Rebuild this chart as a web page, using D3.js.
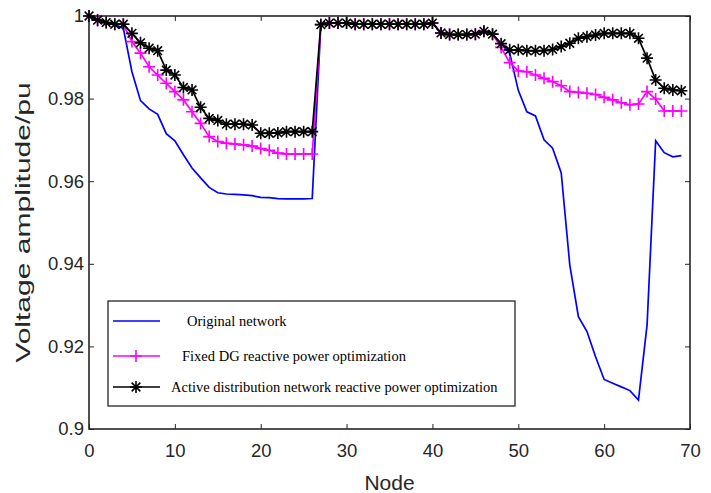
<!DOCTYPE html>
<html>
<head>
<meta charset="utf-8">
<script src="https://cdn.jsdelivr.net/npm/d3@7"></script>
<style>
  body { margin: 0; background: #fff; }
  svg { display: block; }
</style>
</head>
<body>
<div id="container"></div>
<script>
/* DATA */
const nodes = [0,1,2,3,4,5,6,7,8,9,10,11,12,13,14,15,16,17,18,19,20,21,22,23,24,25,26,27,28,29,
  30,31,32,33,34,35,36,37,38,39,40,41,42,43,44,45,46,47,48,49,50,51,52,53,54,55,56,57,58,59,
  60,61,62,63,64,65,66,67,68,69]

const original = [1.0,0.999,0.9985,0.998,0.997,0.9865,0.9795,0.9775,0.9762,0.9715,
  0.9698,0.9664,0.9632,0.9608,0.9585,0.9572,0.9569,0.9568,0.9567,0.9565,
  0.9561,0.956,0.9558,0.9557,0.9557,0.9557,0.9558,0.9979,0.9983,0.9983,
  0.9983,0.998,0.998,0.998,0.998,0.998,0.998,0.998,0.998,0.998,
  0.9983,0.9959,0.9955,0.9955,0.9955,0.9956,0.9963,0.9956,0.9933,0.991,
  0.982,0.9768,0.9758,0.970,0.968,0.962,0.9397,0.9272,0.9236,0.9175,
  0.912,0.9111,0.9102,0.9093,0.907,0.9252,0.9698,0.9669,0.9659,0.9662]

const fixedDG = [1.0,0.999,0.9984,0.998,0.998,0.9938,0.991,0.9877,0.9857,0.9837,
  0.9817,0.9797,0.9768,0.974,0.9708,0.9696,0.9692,0.969,0.9688,0.9685,
  0.9679,0.9675,0.9668,0.9666,0.9666,0.9666,0.9666,0.9979,0.9983,0.9983,
  0.9983,0.998,0.998,0.998,0.998,0.998,0.998,0.998,0.998,0.998,
  0.9983,0.9959,0.9955,0.9955,0.9955,0.9956,0.9963,0.9956,0.9924,0.9887,
  0.9867,0.9865,0.9857,0.9849,0.9841,0.9831,0.9817,0.9815,0.9813,0.981,
  0.9803,0.9797,0.979,0.9785,0.9787,0.9817,0.9799,0.977,0.977,0.977]

const activeDN = [1.0,0.999,0.9984,0.998,0.998,0.9958,0.9935,0.9922,0.9916,0.9869,
  0.9857,0.9827,0.9821,0.9779,0.9752,0.9747,0.9738,0.9738,0.9738,0.9736,
  0.9716,0.9716,0.9717,0.972,0.972,0.972,0.972,0.9979,0.9983,0.9983,
  0.9983,0.998,0.998,0.998,0.998,0.998,0.998,0.998,0.998,0.998,
  0.9983,0.9959,0.9955,0.9955,0.9955,0.9956,0.9963,0.9956,0.9933,0.9918,
  0.9918,0.9916,0.9916,0.9916,0.9919,0.9926,0.9934,0.9946,0.995,0.9954,
  0.9958,0.9958,0.9958,0.9958,0.9946,0.9898,0.9845,0.9825,0.9821,0.9819]

const xTicks = [0,10,20,30,40,50,60,70]
const yTicks = [0.9,0.92,0.94,0.96,0.98,1]
const yTickLabels = ["0.9","0.92","0.94","0.96","0.98","1"]
const legendLabels = ["Original network", "Fixed DG reactive power optimization",
  "Active distribution network reactive power optimization"]

/* LAYOUT */
const W = 711, H = 493
const margin = {top: 16, right: 21, bottom: 64, left: 89}
const width = W - margin.left - margin.right
const height = H - margin.top - margin.bottom
const axisColor = "#262626"
const sans = "'Liberation Sans', Arial, Helvetica, sans-serif"

const svg = d3.select("#container")
  .append("svg")
    .attr("width", W)
    .attr("height", H)
  .append("g")
    .attr("transform", "translate(" + margin.left + "," + margin.top + ")")

// SCALES
const xScale = d3.scaleLinear().domain([0, 70]).range([0, width])
const yScale = d3.scaleLinear().domain([0.9, 1]).range([height, 0])

// AXES (ticks inward, box all round)
function styleAxis(g) {
  g.select(".domain").remove()
  g.selectAll(".tick line").attr("stroke", axisColor).attr("stroke-width", 1)
  g.selectAll(".tick text")
    .attr("fill", axisColor)
    .style("font-family", sans)
    .style("font-size", "18.5px")
}

svg.append("g")
  .attr("transform", "translate(0," + height + ")")
  .call(d3.axisBottom(xScale).tickValues(xTicks).tickSize(-5).tickPadding(15))
  .call(styleAxis)

svg.append("g")
  .call(d3.axisTop(xScale).tickValues(xTicks).tickSize(-5).tickFormat(""))
  .call(styleAxis)

svg.append("g")
  .call(d3.axisLeft(yScale).tickValues(yTicks).tickSize(-5).tickPadding(5)
    .tickFormat((d, i) => yTickLabels[i]))
  .call(styleAxis)

svg.append("g")
  .attr("transform", "translate(" + width + ",0)")
  .call(d3.axisRight(yScale).tickValues(yTicks).tickSize(-5).tickFormat(""))
  .call(styleAxis)

svg.append("rect")
  .attr("width", width)
  .attr("height", height)
  .attr("fill", "none")
  .attr("stroke", axisColor)
  .attr("stroke-width", 1.6)

// LINES
const series = [
  {name: legendLabels[0], values: original, color: "#0000ff", marker: null},
  {name: legendLabels[1], values: fixedDG, color: "#ff00ff", marker: "plus"},
  {name: legendLabels[2], values: activeDN, color: "#000000", marker: "star"}
]

const line = d3.line()
  .x(d => xScale(d.x))
  .y(d => yScale(d.y))

function markerPath(type, r) {
  if (type === "plus") return `M${-r},0H${r}M0,${-r}V${r}`
  const k = r * 0.72
  return `M${-r},0H${r}M0,${-r}V${r}M${-k},${-k}L${k},${k}M${-k},${k}L${k},${-k}`
}

series.forEach(s => {
  const pts = nodes.map((n, i) => ({x: n, y: s.values[i]}))
  svg.append("path")
    .datum(pts)
    .attr("fill", "none")
    .attr("stroke", s.color)
    .attr("stroke-width", 1.7)
    .attr("d", line)
  if (s.marker) {
    svg.append("g").selectAll("path")
      .data(pts)
      .join("path")
        .attr("transform", d => `translate(${xScale(d.x)},${yScale(d.y)})`)
        .attr("d", markerPath(s.marker, 6))
        .attr("fill", "none")
        .attr("stroke", s.color)
        .attr("stroke-width", 1.6)
  }
})

// AXIS LABELS
svg.append("text")
  .attr("x", width / 2)
  .attr("y", height + 61)
  .attr("text-anchor", "middle")
  .attr("fill", axisColor)
  .style("font-family", sans)
  .style("font-size", "21px")
  .text("Node")

svg.append("text")
  .attr("transform", `translate(${-59},${height / 2}) rotate(-90) scale(1.43,1)`)
  .attr("text-anchor", "middle")
  .attr("fill", axisColor)
  .style("font-family", sans)
  .style("font-size", "21px")
  .text("Voltage amplitude/pu")

// LEGEND
const lg = svg.append("g").attr("transform", "translate(19,285)")
lg.append("rect")
  .attr("width", 407)
  .attr("height", 105)
  .attr("fill", "#fff")
  .attr("stroke", axisColor)
  .attr("stroke-width", 1.3)

const rowY = [20, 55, 86]
const textX = [79, 74, 63]
series.forEach((s, i) => {
  const row = lg.append("g").attr("transform", `translate(0,${rowY[i]})`)
  row.append("line")
    .attr("x1", 5).attr("x2", 52)
    .attr("stroke", s.color).attr("stroke-width", 1.7)
  if (s.marker) {
    row.append("path")
      .attr("transform", "translate(28,0)")
      .attr("d", markerPath(s.marker, 6))
      .attr("fill", "none")
      .attr("stroke", s.color)
      .attr("stroke-width", 1.6)
  }
  row.append("text")
    .attr("x", textX[i])
    .attr("y", 5)
    .attr("fill", "#000")
    .style("font-family", "'Liberation Serif', 'Times New Roman', serif")
    .style("font-size", "14.5px")
    .text(s.name)
})
</script>
</body>
</html>
